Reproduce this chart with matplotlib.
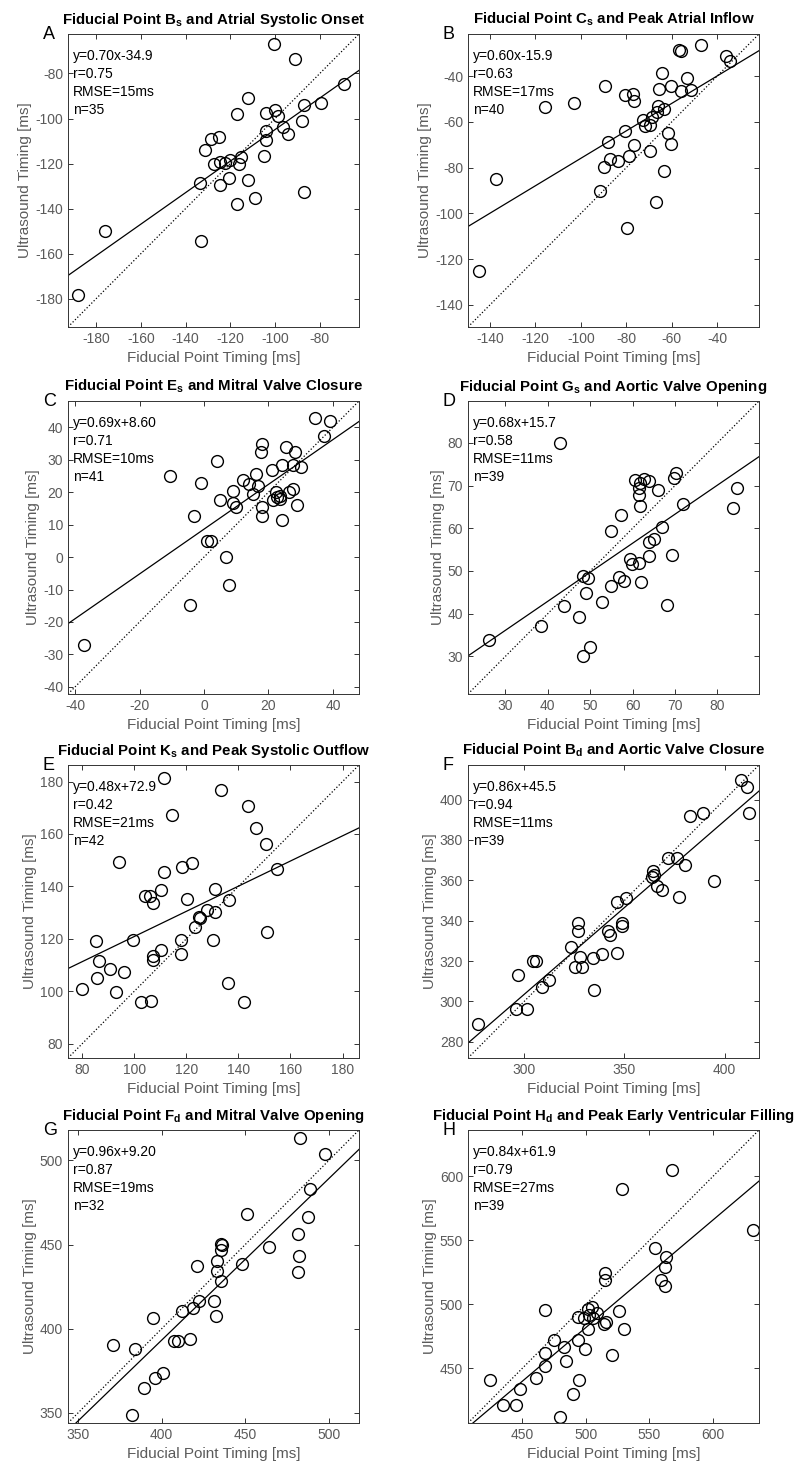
import matplotlib
matplotlib.use('Agg')
import matplotlib.pyplot as plt

plt.rcParams['font.family'] = ['Liberation Sans', 'DejaVu Sans']
plt.rcParams['mathtext.fontset'] = 'custom'
plt.rcParams['mathtext.rm'] = 'Liberation Sans'
plt.rcParams['mathtext.bf'] = 'Liberation Sans:bold'
plt.rcParams['axes.unicode_minus'] = False

# panel A: fiducial point Bs vs atrial systolic onset
a_x = [-100.3, -91.1, -69.2, -111.9, -87.0, -79.3, -117.2, -104.1, -100.0, -98.8, -96.6, -94.4,
       -87.9, -104.1, -104.1, -128.4, -125.0, -131.4, -127.4, -124.7, -122.5, -120.3, -115.3,
       -116.3, -105.0, -133.6, -124.7, -120.7, -111.9, -117.0, -109.0, -87.0, -176.1, -132.9, -188.0]
a_y = [-67.0, -73.7, -84.6, -90.9, -94.0, -93.3, -98.1, -97.6, -96.4, -98.8, -103.6, -107.0,
       -100.9, -105.7, -109.6, -109.0, -108.4, -114.0, -120.3, -119.1, -119.9, -118.5, -117.0,
       -120.3, -116.7, -128.7, -129.3, -126.4, -127.2, -137.9, -135.4, -132.8, -149.7, -154.3, -178.5]

# panel B: fiducial point Cs vs peak atrial inflow
b_x = [-47.0, -56.7, -55.7, -36.1, -34.2, -64.4, -53.4, -89.3, -65.6, -60.1, -55.7, -51.3,
       -80.7, -77.1, -76.6, -102.9, -115.6, -65.9, -63.4, -66.6, -68.8, -72.8, -71.7, -69.5,
       -80.7, -61.8, -60.1, -88.1, -76.5, -69.7, -78.7, -87.2, -83.7, -89.6, -63.4, -91.6,
       -137.2, -66.9, -79.7, -144.9]
b_y = [-26.3, -28.4, -28.8, -31.2, -33.2, -38.4, -40.6, -44.3, -45.7, -44.3, -46.5, -46.2,
       -48.2, -47.9, -51.0, -51.6, -53.5, -53.1, -54.3, -55.7, -57.9, -59.0, -61.6, -61.2,
       -63.8, -65.0, -69.7, -68.8, -70.1, -72.5, -74.9, -76.2, -77.2, -79.9, -81.5, -90.3,
       -85.0, -95.0, -106.5, -125.3]

# panel C: fiducial point Es vs mitral valve closure
c_x = [34.3, 39.2, 37.1, 18.1, 17.8, 25.4, 28.1, 3.9, 21.0, 24.1, 27.7, 30.0, 16.0, 12.2,
       14.1, 16.7, 15.1, -10.6, -0.9, 9.1, 5.0, 8.9, 9.9, 22.4, 23.6, 23.6, 21.5, 26.5, 27.7,
       28.8, 17.9, 17.9, 24.3, -3.2, 0.8, 2.1, 6.7, 7.8, -4.2, -37.2, 22.8]
c_y = [42.9, 42.0, 37.4, 34.9, 32.5, 34.0, 32.5, 29.5, 26.9, 28.5, 28.4, 27.9, 25.6, 23.9,
       22.5, 22.0, 19.4, 25.0, 22.7, 20.4, 17.5, 16.8, 15.5, 20.1, 18.9, 17.8, 17.5, 20.1, 21.0,
       16.1, 15.3, 12.6, 11.5, 12.7, 4.9, 4.9, 0.0, -8.5, -14.9, -27.0, 18.4]

# panel D: fiducial point Gs vs aortic valve opening
d_x = [43.0, 60.5, 62.7, 61.8, 63.9, 61.5, 61.5, 61.8, 66.0, 70.3, 69.7, 71.9, 84.7, 83.6,
       57.2, 55.0, 66.9, 65.0, 63.9, 63.9, 69.3, 59.3, 59.8, 61.5, 61.9, 48.2, 49.6, 56.8,
       57.9, 55.0, 49.0, 52.7, 43.9, 47.3, 68.2, 38.5, 26.2, 50.0, 48.3]
d_y = [80.0, 71.4, 71.6, 70.6, 71.0, 69.4, 67.7, 65.2, 68.9, 72.9, 71.7, 65.7, 69.5, 64.7,
       63.2, 59.3, 60.3, 57.5, 56.7, 53.4, 53.7, 52.7, 51.6, 51.8, 47.5, 48.9, 48.3, 48.7,
       47.7, 46.5, 44.8, 42.7, 41.7, 39.2, 42.0, 37.1, 33.8, 32.3, 30.2]

# panel E: fiducial point Ks vs peak systolic outflow
e_x = [111.4, 133.2, 143.8, 114.7, 146.9, 150.7, 94.1, 122.3, 118.3, 111.4, 155.0, 110.3,
       131.1, 104.2, 106.1, 107.4, 120.3, 136.3, 127.8, 131.2, 124.9, 125.4, 123.5, 130.2,
       118.1, 118.1, 151.1, 85.3, 99.4, 110.4, 107.4, 107.1, 86.6, 90.8, 96.2, 85.6, 79.9,
       93.1, 136.1, 102.8, 106.4, 142.0]
e_y = [181.5, 176.9, 170.5, 167.4, 162.4, 156.1, 149.4, 148.8, 147.5, 145.5, 146.5, 138.8,
       139.1, 136.2, 136.2, 133.8, 135.1, 134.8, 131.1, 130.1, 128.5, 128.1, 124.4, 119.7,
       119.5, 114.4, 122.5, 119.2, 119.5, 115.9, 113.5, 112.1, 111.4, 108.6, 107.3, 105.0,
       100.9, 99.8, 103.1, 96.0, 96.4, 96.0]

# panel F: fiducial point Bd vs aortic valve closure
f_x = [408.0, 411.0, 412.1, 382.8, 389.2, 371.8, 376.3, 380.4, 364.0, 364.8, 363.8, 366.0,
       368.8, 394.7, 377.3, 346.3, 350.7, 326.7, 326.7, 348.9, 348.9, 342.0, 343.0, 346.3,
       323.5, 338.8, 334.2, 327.9, 325.4, 328.9, 304.3, 306.0, 296.7, 312.4, 308.9, 335.0,
       295.9, 301.3, 276.9]
f_y = [409.8, 406.1, 393.4, 392.0, 393.2, 371.0, 371.0, 367.5, 364.5, 362.4, 361.6, 357.1,
       355.1, 359.6, 351.6, 349.3, 351.0, 338.7, 334.9, 338.9, 337.2, 334.9, 332.7, 323.9,
       326.8, 323.4, 321.6, 322.1, 317.3, 317.3, 320.1, 320.1, 313.0, 310.4, 307.2, 305.7,
       296.3, 296.3, 288.6]

# panel G: fiducial point Fd vs mitral valve opening
g_x = [482.7, 497.6, 488.9, 450.8, 487.7, 481.7, 435.5, 435.9, 435.5, 463.9, 482.3, 433.1,
       421.4, 448.0, 433.1, 481.7, 435.3, 422.4, 431.5, 418.5, 412.1, 432.3, 395.0, 407.1,
       409.5, 416.9, 371.2, 384.1, 400.6, 396.0, 389.3, 382.3]
g_y = [513.0, 503.6, 483.0, 467.9, 466.3, 456.1, 450.5, 449.5, 446.7, 448.5, 443.4, 440.0,
       437.2, 438.2, 434.0, 433.6, 428.2, 416.2, 416.2, 412.2, 410.6, 407.7, 406.5, 392.5,
       392.5, 394.1, 390.3, 388.1, 373.4, 370.8, 364.8, 349.0]

# panel H: fiducial point Hd vs peak early ventricular filling
h_x = [567.5, 528.5, 631.4, 554.2, 563.1, 562.6, 514.7, 514.7, 559.4, 562.6, 467.8, 525.9,
       501.6, 505.0, 508.9, 505.8, 493.5, 498.5, 516.2, 514.1, 501.8, 530.4, 474.9, 494.2,
       483.2, 467.5, 499.7, 484.6, 520.2, 467.5, 461.0, 424.6, 494.5, 448.2, 435.1, 445.0,
       489.8, 479.8, 502.6]
h_y = [605.2, 590.0, 557.8, 543.9, 537.1, 529.5, 524.8, 518.7, 519.2, 514.5, 495.6, 495.1,
       496.7, 498.0, 493.5, 489.6, 490.4, 489.1, 486.5, 484.9, 480.7, 480.4, 472.3, 472.3,
       466.5, 462.3, 465.5, 456.1, 460.3, 452.1, 442.4, 441.1, 441.1, 433.5, 421.4, 421.4,
       429.8, 412.3, 491.7]

letters = ['A', 'B', 'C', 'D', 'E', 'F', 'G', 'H']
titles = [r'Fiducial Point B$_\mathbf{s}$ and Atrial Systolic Onset',
          r'Fiducial Point C$_\mathbf{s}$ and Peak Atrial Inflow',
          r'Fiducial Point E$_\mathbf{s}$ and Mitral Valve Closure',
          r'Fiducial Point G$_\mathbf{s}$ and Aortic Valve Opening',
          r'Fiducial Point K$_\mathbf{s}$ and Peak Systolic Outflow',
          r'Fiducial Point B$_\mathbf{d}$ and Aortic Valve Closure',
          r'Fiducial Point F$_\mathbf{d}$ and Mitral Valve Opening',
          r'Fiducial Point H$_\mathbf{d}$ and Peak Early Ventricular Filling']
slopes = [0.70, 0.60, 0.69, 0.68, 0.48, 0.86, 0.96, 0.84]
intercepts = ['-34.9', '-15.9', '+8.60', '+15.7', '+72.9', '+45.5', '+9.20', '+61.9']
r_vals = ['0.75', '0.63', '0.71', '0.58', '0.42', '0.94', '0.87', '0.79']
rmse_vals = [15, 17, 10, 11, 21, 11, 19, 27]
limits = [(-192.5, -62.5), (-149.7, -21.5), (-42.2, 48.1), (21.2, 89.8),
          (74.6, 186.3), (272.0, 417.1), (344.0, 518.0), (407.3, 636.2)]
xticks = [range(-180, -79, 20), range(-140, -39, 20), range(-40, 41, 20), range(30, 81, 10),
          range(80, 181, 20), range(300, 401, 50), range(350, 501, 50), range(450, 601, 50)]
yticks = [range(-180, -79, 20), range(-140, -39, 20), range(-40, 41, 10), range(30, 81, 10),
          range(80, 181, 20), range(280, 401, 20), range(350, 501, 50), range(450, 601, 50)]
xs = [a_x, b_x, c_x, d_x, e_x, f_x, g_x, h_x]
ys = [a_y, b_y, c_y, d_y, e_y, f_y, g_y, h_y]

W, H = 799, 1464
fig = plt.figure(figsize=(W / 100, H / 100), dpi=100)
col_left = [68, 468]
row_top = [34, 401, 765, 1130]
ax_w, ax_h = 291, 293
grey = '#5a5a5a'

for i in range(8):
    left = col_left[i % 2]
    top = row_top[i // 2]
    ax = fig.add_axes([left / W, 1 - (top + ax_h) / H, ax_w / W, ax_h / H])
    lo, hi = limits[i]
    b = float(intercepts[i])
    ax.plot([lo, hi], [lo, hi], ':', color='k', lw=0.9)
    ax.plot([lo, hi], [slopes[i] * lo + b, slopes[i] * hi + b], '-', color='k', lw=0.9)
    ax.plot(xs[i], ys[i], 'o', mfc='none', mec='k', ms=8.5, mew=1.0)
    ax.set_xlim(lo, hi)
    ax.set_ylim(lo, hi)
    ax.set_xticks(list(xticks[i]))
    ax.set_yticks(list(yticks[i]))
    ax.tick_params(direction='in', top=True, right=True, length=3.5, width=0.7,
                   colors='#333333', labelcolor=grey, labelsize=10)
    for s in ax.spines.values():
        s.set_color('#333333')
        s.set_linewidth(0.7)
    ax.set_xlabel('Fiducial Point Timing [ms]', color=grey, fontsize=11, labelpad=4)
    ax.set_ylabel('Ultrasound Timing [ms]', color=grey, fontsize=11, labelpad=2)
    ax.set_title(titles[i], fontsize=10.8, fontweight='bold', pad=7.5)
    stats = f'y={slopes[i]:.2f}x{intercepts[i]}\nr={r_vals[i]}\nRMSE={rmse_vals[i]}ms\nn={len(xs[i])}'
    ax.text(0.018, 0.95, stats, transform=ax.transAxes, va='top', ha='left', fontsize=10, linespacing=1.38)
    ax.text(-25 / ax_w, 1 - 5 / ax_h, letters[i], transform=ax.transAxes, ha='left', va='baseline', fontsize=13)

fig.savefig('out.png', dpi=100)
